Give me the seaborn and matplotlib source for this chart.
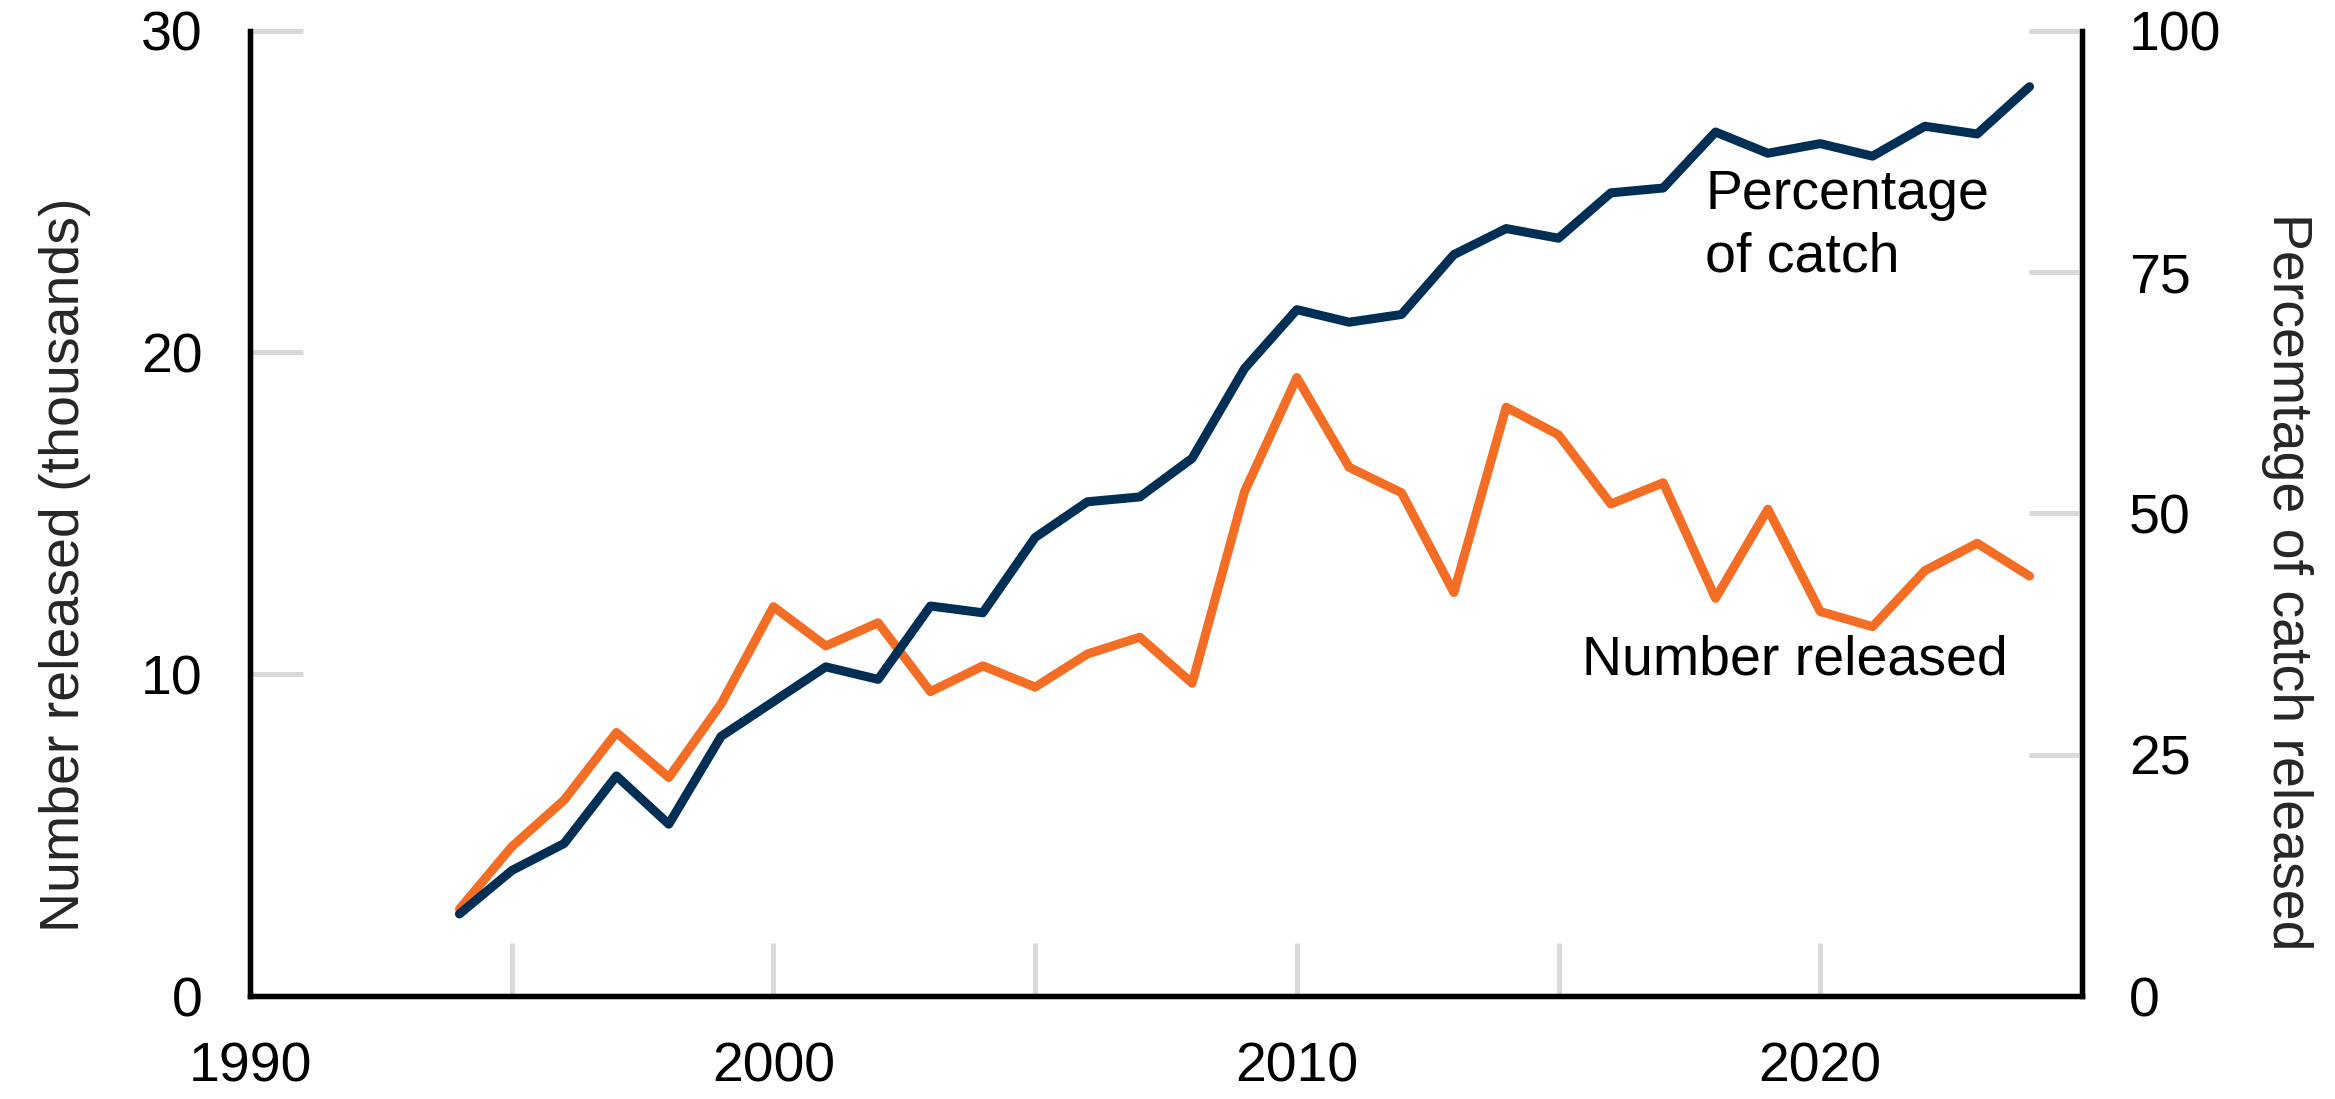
import matplotlib
matplotlib.use("Agg")
import matplotlib.pyplot as plt
from matplotlib.ticker import MultipleLocator
import seaborn as sns

# values
years = [1994, 1995, 1996, 1997, 1998, 1999, 2000, 2001, 2002, 2003, 2004,
         2005, 2006, 2007, 2008, 2009, 2010, 2011, 2012, 2013, 2014, 2015,
         2016, 2017, 2018, 2019, 2020, 2021, 2022, 2023, 2024]

# number released, thousands (left axis)
number_released = [2.70, 4.64, 6.09, 8.19, 6.79, 9.08, 12.10, 10.88, 11.60, 9.46, 10.26,
                   9.60, 10.63, 11.15, 9.72, 15.67, 19.22, 16.43, 15.64, 12.54, 18.30, 17.44,
                   15.29, 15.95, 12.36, 15.13, 11.95, 11.48, 13.22, 14.07, 13.05]

# percentage of catch released (right axis)
pct_released = [8.5, 13.0, 15.8, 22.8, 17.8, 26.9, 30.5, 34.1, 32.8, 40.4, 39.7,
                47.5, 51.2, 51.7, 55.7, 65.0, 71.1, 69.8, 70.6, 76.8, 79.5, 78.5,
                83.2, 83.7, 89.5, 87.3, 88.3, 87.0, 90.1, 89.3, 94.2]

left_ticks = [0, 10, 20, 30]
right_ticks = [0, 25, 50, 75, 100]

ORANGE = "#F46D25"
NAVY = "#002F56"
TICK_GREY = "#D9D9D9"
FS = 40

sns.set_style("white")
plt.rcParams["font.family"] = ["Liberation Sans", "DejaVu Sans"]

fig = plt.figure(figsize=(23.35, 10.99), dpi=100)
ax = fig.add_axes([0.1071, 0.0937, 0.7845, 0.8784])
ax2 = ax.twinx()

sns.lineplot(x=years, y=number_released, ax=ax, color=ORANGE, linewidth=6.5,
             solid_capstyle="round")
sns.lineplot(x=years, y=pct_released, ax=ax2, color=NAVY, linewidth=6.5,
             solid_capstyle="round")

ax.set_xlim(1990, 2025)
ax.set_ylim(0, 30)
ax2.set_ylim(0, 100)
ax.xaxis.set_major_locator(MultipleLocator(10))
ax.xaxis.set_minor_locator(MultipleLocator(5))
ax.set_yticks(left_ticks)
ax2.set_yticks(right_ticks)

tick_kw = dict(direction="in", length=38, width=3.6, color=TICK_GREY,
               labelcolor="black", labelsize=FS)
ax.tick_params(axis="x", which="both", pad=33, bottom=True, top=False, **tick_kw)
ax.tick_params(axis="y", pad=34, left=True, right=False, **tick_kw)
ax2.tick_params(axis="y", pad=34, right=True, left=False, **tick_kw)
ax2.tick_params(axis="x", which="both", bottom=False, top=False)

for a in (ax, ax2):
    a.grid(False)
    a.spines["top"].set_visible(False)
    for s in ("left", "right", "bottom"):
        a.spines[s].set_color("black")
        a.spines[s].set_linewidth(3.8)

ax.set_ylabel("Number released (thousands)", fontsize=FS)
ax.yaxis.set_label_coords(-0.087, 0.447)
ax2.set_ylabel("Percemtage of catch released", fontsize=FS, rotation=270, va="bottom")
ax2.yaxis.set_label_coords(1.098, 0.429)

# multi-line label: baseline alignment lands on the last line
ax2.text(2017.8, 75.1, "Percentage\nof catch", fontsize=FS, color="black",
         ha="left", va="baseline", linespacing=1.25)
ax.text(2015.44, 10.0, "Number released", fontsize=FS, color="black",
        ha="left", va="baseline")

fig.savefig("out.png", dpi=100)
